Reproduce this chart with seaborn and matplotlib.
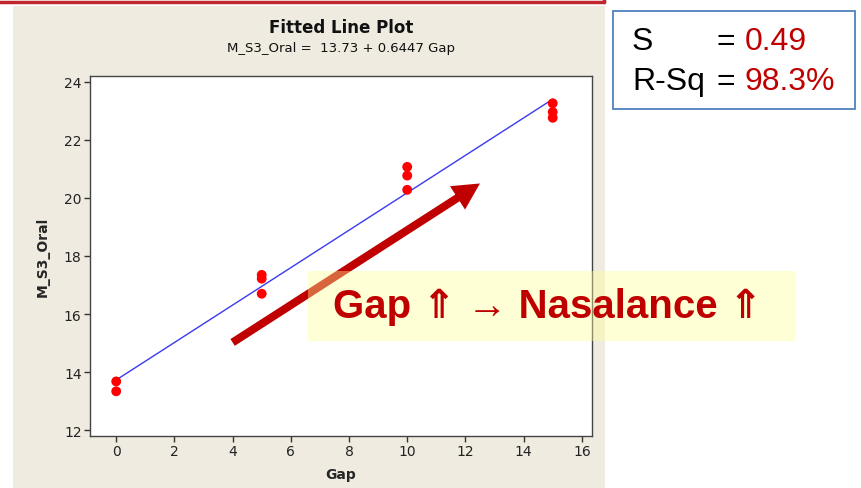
import numpy as np
import pandas as pd
import matplotlib
matplotlib.use("Agg")
import matplotlib.pyplot as plt
import seaborn as sns
from matplotlib.patches import Rectangle, FancyArrowPatch

# ---- data ----
gap = [0, 0, 5, 5, 5, 10, 10, 10, 15, 15, 15]
oral = [13.68, 13.34, 17.35, 17.22, 16.70, 21.07, 20.77, 20.28, 23.26, 22.96, 22.76]
intercept = 13.73
slope = 0.6447
fit_x = [0, 15]
x_ticks = [0, 2, 4, 6, 8, 10, 12, 14, 16]
y_ticks = [12, 14, 16, 18, 20, 22, 24]
arrow_start = (3.92, 14.97)
arrow_end = (12.58, 20.55)

sns.set_style("white")
plt.rcParams['font.family'] = ['DejaVu Sans']

W, H = 861, 489
fig = plt.figure(figsize=(W / 100, H / 100), dpi=100)
fig.patch.set_facecolor("white")

def fx(px):
    return px / W

def fy(py):
    return 1 - py / H

# beige panel
fig.patches.append(Rectangle((fx(13), 0), fx(605) - fx(13), fy(7), transform=fig.transFigure,
                             facecolor="#EFEBE1", edgecolor="none", zorder=-10))
# red box edge at top
fig.add_artist(plt.Line2D([0, fx(604)], [fy(3), fy(3)], transform=fig.transFigure, color="#C0262B", lw=2.5))
fig.add_artist(plt.Line2D([fx(604), fx(604)], [fy(3), 1.0], transform=fig.transFigure, color="#C0262B", lw=2.5))

ax = fig.add_axes([fx(90), fy(437), fx(592) - fx(90), fy(77) - fy(437)])
ax.set_facecolor("white")

df = pd.DataFrame({"Gap": gap, "M_S3_Oral": oral})
fit_df = pd.DataFrame({"Gap": fit_x, "M_S3_Oral": [intercept + slope * v for v in fit_x]})
sns.lineplot(data=fit_df, x="Gap", y="M_S3_Oral", ax=ax, color="#3A3AF0", lw=1.0, zorder=2)
sns.scatterplot(data=df, x="Gap", y="M_S3_Oral", ax=ax, color="#FF0000", s=50, edgecolor="none", zorder=3)

ax.set_xlim(-0.9, 16.35)
ax.set_ylim(11.8, 24.2)
ax.set_xticks(x_ticks)
ax.set_yticks(y_ticks)
ax.tick_params(axis="both", direction="out", length=4, width=1, color="#333333",
               labelsize=10, labelcolor="#222222", pad=2, bottom=True, left=True)
for sp in ax.spines.values():
    sp.set_color("#444444")
    sp.set_linewidth(1.0)
ax.set_xlabel("Gap", fontsize=10, fontweight="bold", labelpad=6)
ax.set_ylabel("M_S3_Oral", fontsize=10, fontweight="bold", labelpad=10)

fig.text(fx(341), fy(28), "Fitted Line Plot", ha="center", va="center", fontsize=12, fontweight="bold", color="#111111")
fig.text(fx(341), fy(49), "M_S3_Oral =  13.73 + 0.6447 Gap", ha="center", va="center", fontsize=9.5, color="#111111")

# arrow
arr = FancyArrowPatch(arrow_start, arrow_end, transform=ax.transData,
                      arrowstyle="simple,head_length=1.2,head_width=1.25,tail_width=0.36",
                      mutation_scale=16, color="#C00000", clip_on=False, zorder=4, lw=0)
ax.add_patch(arr)

# yellow highlight box
fig.patches.append(Rectangle((fx(308), fy(342)), fx(795) - fx(308), fy(272) - fy(342),
                             transform=fig.transFigure, facecolor="#FFFF99", alpha=0.4,
                             edgecolor="none", zorder=5))
fig.text(fx(548), fy(307), "Gap \u21d1 \u2192 Nasalance \u21d1", ha="center", va="center",
         fontsize=29, fontweight="bold", color="#C00000",
         family=["Liberation Sans", "DejaVu Sans"], zorder=6)

# stats box
fig.patches.append(Rectangle((fx(613), fy(110)), fx(855) - fx(613), fy(12) - fy(110),
                             transform=fig.transFigure, facecolor="white",
                             edgecolor="#4F81BD", lw=1.3, zorder=5))
kw = dict(va="center", fontsize=23, family=["Liberation Sans", "DejaVu Sans"], zorder=6)
fig.text(fx(632), fy(42), "S", color="black", **kw)
fig.text(fx(716), fy(42), "=", color="black", **kw)
fig.text(fx(745), fy(42), "0.49", color="#C00000", **kw)
fig.text(fx(632), fy(82), "R-Sq", color="black", **kw)
fig.text(fx(716), fy(82), "=", color="black", **kw)
fig.text(fx(745), fy(82), "98.3%", color="#C00000", **kw)

fig.savefig("out.png", dpi=100)
